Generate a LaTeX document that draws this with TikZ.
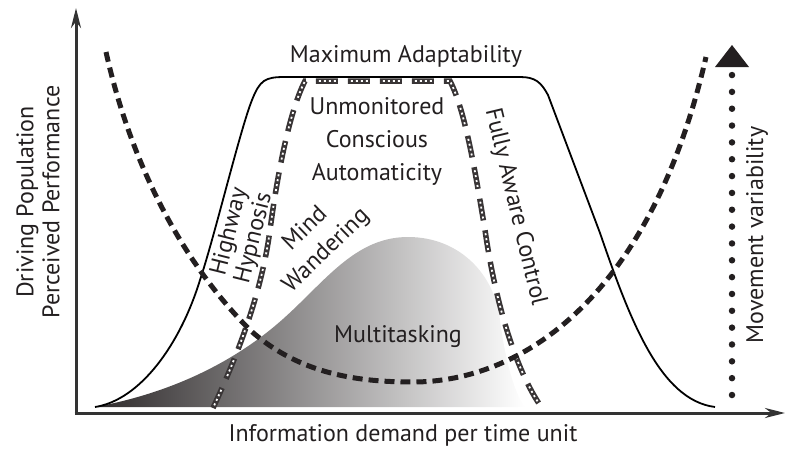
\documentclass[tikz,border=0pt]{standalone}
\usepackage{fontspec}
\setmainfont{PT Sans}
\usetikzlibrary{arrows.meta}
\definecolor{ink}{HTML}{231F20}
\definecolor{axisgray}{HTML}{333333}
\tikzset{
  lbl/.style={text=ink, inner sep=0pt, font=\fontsize{24}{30}\selectfont},
  axisline/.style={line width=3pt, draw=axisgray, -{Stealth[length=20pt,width=10pt]}},
  boxdark/.style={line width=5.5pt, draw=ink!90, dash pattern=on 22pt off 10pt},
  boxwhite/.style={line width=1.8pt, draw=white, dash pattern=on 0pt off 3pt on 2pt off 3pt on 2pt off 3pt on 2pt off 3pt on 2pt off 12pt},
  udash/.style={line width=5pt, draw=ink, dash pattern=on 10pt off 6pt},
  perf/.style={line width=1.8pt, draw=black},
}
\begin{document}
\begin{tikzpicture}[x=1pt,y=-1pt]
\useasboundingbox (0,0) rectangle (785,450);
% gradient population
\shade[left color=ink!95, right color=white]
  (95,407) .. controls (160,395) and (220,370) .. (270,330)
  .. controls (320,290) and (350,237) .. (408,237)
  .. controls (460,237) and (495,275) .. (500,320)
  .. controls (505,360) and (515,395) .. (525,407) -- cycle;
% dotted-box boundary
\coordinate (bl) at (213,408);
\coordinate (br) at (542,408);
\path[boxdark] (bl) .. controls (240,350) and (262,290) .. (270,230)
  .. controls (278,170) and (290,110) .. (305,81) -- (450,81)
  .. controls (465,110) and (475,170) .. (485,230)
  .. controls (495,300) and (515,370) .. (br);
\path[boxwhite] (bl) .. controls (240,350) and (262,290) .. (270,230)
  .. controls (278,170) and (290,110) .. (305,81) -- (450,81)
  .. controls (465,110) and (475,170) .. (485,230)
  .. controls (495,300) and (515,370) .. (br);
% performance curve
\coordinate (ps) at (95,407);
\coordinate (pe) at (715,407);
\draw[perf] (ps) .. controls (140,400) and (180,345) .. (200,280)
  .. controls (215,235) and (240,130) .. (252,100)
  .. controls (260,80) and (265,77) .. (285,77) -- (520,77)
  .. controls (535,77) and (541,82) .. (548,95)
  -- (600,233) .. controls (630,320) and (660,400) .. (pe);
% movement variability U curve
\coordinate (us) at (106,52);
\coordinate (ue) at (706,57);
\draw[udash] (us) .. controls (130,160) and (180,260) .. (250,330)
  .. controls (300,375) and (360,382) .. (413,382)
  .. controls (520,382) and (650,300) .. (ue);
% axes
\coordinate (o) at (76,413);
\coordinate (ytop) at (76,8);
\coordinate (xend) at (785,413);
\draw[axisline] (o) -- (ytop);
\draw[axisline] ([xshift=-1.5pt]o) -- (xend);
% movement variability arrow
\coordinate (mvb) at (732,395);
\coordinate (mvt) at (732,75);
\draw[line width=6.5pt, ink, line cap=round, dash pattern=on 0pt off 16.84pt] (mvb) -- (mvt);
\fill[ink] (732,45) -- (749,67) -- (715,67) -- cycle;
% labels
\node[lbl] (maxad) at (406,56) {Maximum Adaptability};
\node[lbl, align=center, font=\fontsize{24}{33}\selectfont] (uca) at (377,141) {Unmonitored\\Conscious\\Automaticity};
\node[lbl, rotate=-76.5] (fac) at (515,207) {Fully Aware Control};
\node[lbl, rotate=76, align=center, font=\fontsize{24}{25}\selectfont] (hh) at (242,235) {Highway\\Hypnosis};
\node[lbl, rotate=44, align=center, font=\fontsize{24}{30}\selectfont] (mw) at (316,240) {Mind\\Wandering};
\node[lbl] (multi) at (398,337) {Multitasking};
\node[lbl] (xlab) at (403,435) {Information demand per time unit};
\node[lbl, rotate=90, align=center, font=\fontsize{24}{26}\selectfont] (ylab) at (38,202) {Driving Population\\Perceived Performance};
\node[lbl, rotate=90] (mvlab) at (757,235) {Movement variability};
\end{tikzpicture}
\end{document}
